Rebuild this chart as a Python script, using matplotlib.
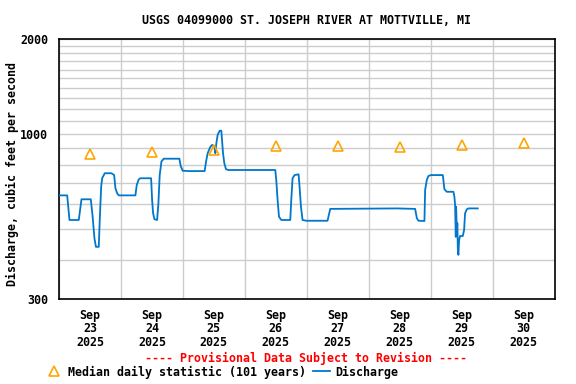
import numpy as np
import pandas as pd
import matplotlib
matplotlib.use('Agg')
import matplotlib.pyplot as plt
import matplotlib.dates as mdates
from matplotlib.ticker import FixedLocator, NullFormatter

# --- data (hours after 2025-09-23 00:00, cfs) ---
flow_hours = [0, 3.17, 4.06, 7.66, 8.71, 12.31, 12.97, 13.74, 14.32, 15.41,
              15.79, 16.34, 16.72, 17.73, 20.32, 21.37, 21.87, 22.53, 23.15, 29.61,
              30.12, 30.89, 31.55, 35.69, 36.08, 36.46, 36.97, 38.01, 38.52, 39.02,
              39.68, 40.57, 46.65, 47.15, 47.92, 50.25, 56.44, 56.98, 57.6, 58.65,
              59.3, 60.19, 60.58, 60.97, 61.47, 62.25, 62.9, 63.17, 63.56, 64.06,
              64.72, 65.73, 83.81, 84.19, 84.7, 85.24, 86.13, 89.61, 90.0, 90.5,
              91.28, 92.83, 93.21, 93.76, 94.37, 95.81, 104.05, 105.1, 130.92, 138.0,
              138.66, 139.28, 141.6, 141.87, 142.53, 143.15, 144.08, 148.72, 148.95, 149.34,
              150.27, 152.83, 153.21, 153.48, 153.75, 153.87, 154.14, 154.37, 154.53, 154.76,
              155.03, 155.42, 156.46, 156.97, 157.35, 158.01, 158.63, 162.27]
flow_cfs = [639, 639, 534, 534, 621, 621, 554, 467, 439, 439,
            534, 681, 724, 751, 751, 741, 673, 649, 639, 639,
            689, 718, 724, 724, 618, 561, 537, 534, 603, 741,
            817, 835, 835, 792, 765, 763, 763, 817, 869, 911,
            923, 915, 869, 934, 993, 1024, 1024, 957, 869, 808,
            773, 769, 769, 715, 618, 547, 534, 534, 618, 724,
            741, 745, 681, 588, 534, 531, 531, 579, 581, 579,
            541, 531, 530, 665, 715, 736, 741, 741, 715, 668,
            656, 656, 633, 596, 472, 588, 500, 521, 434, 414,
            461, 475, 475, 496, 561, 577, 581, 581]

median_days = ['2025-09-23', '2025-09-24', '2025-09-25', '2025-09-26',
               '2025-09-27', '2025-09-28', '2025-09-29', '2025-09-30']
median_cfs = [865, 877, 892, 918, 918, 911, 923, 938]

start = pd.Timestamp('2025-09-23')
flow_t = start + pd.to_timedelta(flow_hours, unit='h')
median_t = pd.to_datetime(median_days) + pd.Timedelta(hours=12)

plt.rcParams['font.family'] = ['DejaVu Sans Mono']
plt.rcParams['font.weight'] = 'bold'
FS = 8.4

fig = plt.figure(figsize=(5.76, 3.84), dpi=100)
ax = fig.add_axes([59 / 576, 1 - 299 / 384, (554.5 - 59) / 576, 260 / 384])

med_line, = ax.plot(median_t, median_cfs, linestyle='none', marker='^', markersize=7,
                    markerfacecolor='none', markeredgecolor='#FFA500', markeredgewidth=1.2,
                    label='Median daily statistic (101 years)', zorder=4)
q_line, = ax.plot(flow_t, flow_cfs, color='#0077CC', linewidth=1.3,
                  label='Discharge', zorder=3)

ax.set_yscale('log')
ax.set_ylim(300, 2000)
ax.yaxis.set_major_locator(FixedLocator([300, 1000, 2000]))
ax.yaxis.set_major_formatter(plt.FuncFormatter(lambda v, p: f'{int(v)}'))
ax.yaxis.set_minor_locator(FixedLocator(list(range(300, 2001, 100))))
ax.yaxis.set_minor_formatter(NullFormatter())

ax.set_xlim(start, start + pd.Timedelta(days=8))
ax.xaxis.set_major_locator(mdates.HourLocator(byhour=[12]))
ax.xaxis.set_major_formatter(mdates.DateFormatter('%b\n%d\n%Y'))
ax.xaxis.set_minor_locator(mdates.DayLocator())

ax.grid(which='minor', color='#CCCCCC', linewidth=1)
ax.grid(which='major', axis='y', color='#CCCCCC', linewidth=1)
ax.set_axisbelow(True)
ax.tick_params(which='both', length=0)
ax.tick_params(axis='y', pad=8, labelsize=FS)
ax.tick_params(axis='x', pad=7, labelsize=FS)
for lab in ax.get_xticklabels():
    lab.set_linespacing(1.05)
for s in ax.spines.values():
    s.set_linewidth(1.2)
    s.set_color('black')

fig.text(306.5 / 576, 1 - 20 / 384, 'USGS 04099000 ST. JOSEPH RIVER AT MOTTVILLE, MI',
         ha='center', va='center', fontsize=FS, fontweight='bold')
fig.text(12 / 576, 1 - 174.5 / 384, 'Discharge, cubic feet per second',
         rotation=90, ha='center', va='center', fontsize=FS, fontweight='bold')
fig.text(306 / 576, 1 - 358 / 384, '---- Provisional Data Subject to Revision ----',
         ha='center', va='center', color='red', fontsize=FS, fontweight='bold')

fig.legend(handles=[med_line, q_line], loc='center left',
           bbox_to_anchor=(45 / 576, 1 - 372 / 384), ncol=2, frameon=False,
           fontsize=FS, handlelength=1.5, handletextpad=0.45, columnspacing=0.6,
           borderpad=0, borderaxespad=0, numpoints=1)

fig.savefig('out.png', dpi=100)
